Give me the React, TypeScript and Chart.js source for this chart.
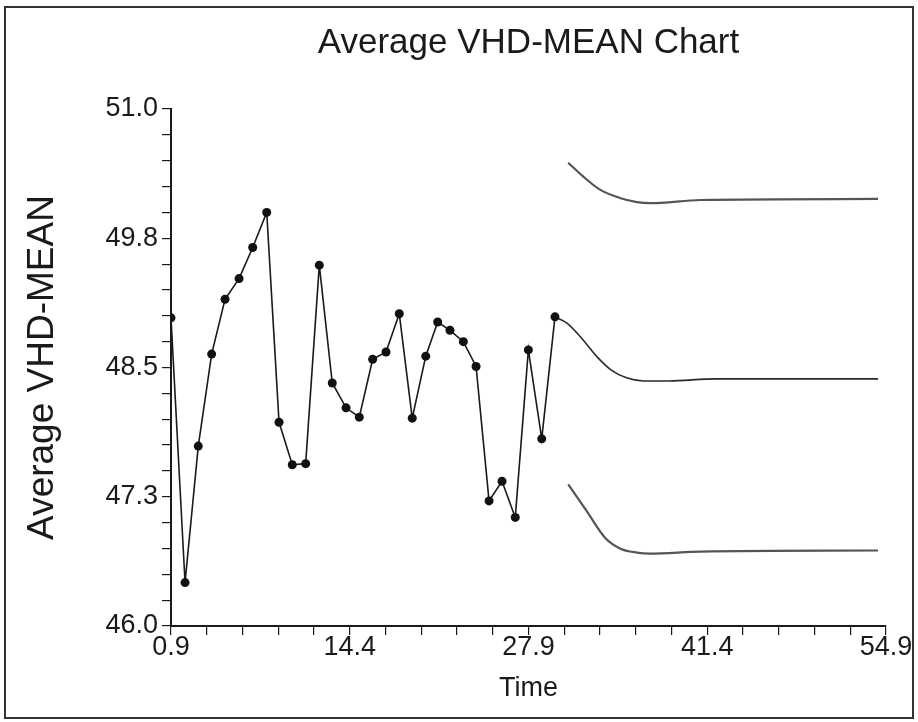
import React, { useEffect, useRef } from "react";
import { Chart, registerables } from "chart.js";

Chart.register(...registerables);

const FONT = "'Liberation Sans', Arial, Helvetica, sans-serif";

const obsTime = [
  0.9, 1.96, 2.96, 3.97, 4.98, 6.04, 7.07, 8.13, 9.06, 10.06,
  11.07, 12.1, 13.08, 14.12, 15.12, 16.13, 17.14, 18.14, 19.12, 20.14,
  21.04, 21.97, 22.98, 23.94, 24.92, 25.9, 26.9, 27.89, 28.9, 29.9,
];
const obsValue = [
  48.98, 46.42, 47.74, 48.63, 49.16, 49.36, 49.66, 50.0, 47.97, 47.56,
  47.57, 49.49, 48.35, 48.11, 48.02, 48.58, 48.65, 49.02, 48.01, 48.61,
  48.94, 48.86, 48.75, 48.51, 47.21, 47.4, 47.05, 48.67, 47.81, 48.99,
];

// Forecast (centre line)
const fcTime = [29.9, 30.8, 31.8, 33.1, 34.1, 35.3, 36.6, 38.5, 42.0, 54.3];
const fcValue = [48.99, 48.93, 48.8, 48.6, 48.48, 48.4, 48.37, 48.37, 48.39, 48.39];

// Upper limit
const upTime = [30.9, 32.0, 33.3, 34.8, 36.1, 37.1, 40.9, 54.3];
const upValue = [50.48, 50.35, 50.22, 50.14, 50.1, 50.09, 50.12, 50.13];

// Lower limit
const loTime = [30.9, 32.3, 33.7, 34.8, 36.1, 37.1, 40.9, 54.3];
const loValue = [47.37, 47.11, 46.85, 46.75, 46.71, 46.7, 46.72, 46.73];

// Axes
const xTickLabels = ["0.9", "14.4", "27.9", "41.4", "54.9"];
const yTickLabels = ["46.0", "47.3", "48.5", "49.8", "51.0"];
const xMin = 0.9;
const xMax = 54.9;
const yMin = 46.0;
const yMax = 51.0;
const minorPerMajor = 5;

const toXY = (xs: number[], ys: number[]) => xs.map((x, i) => ({ x, y: ys[i] }));

const frame = {
  id: "frame",
  beforeDraw(chart: any) {
    const c = chart.ctx;
    c.save();
    c.fillStyle = "#ffffff";
    c.fillRect(0, 0, chart.width, chart.height);
    c.strokeStyle = "#333333";
    c.lineWidth = 2;
    c.strokeRect(5, 7, chart.width - 10, chart.height - 11);
    c.restore();
  },
};

// centre the chart title over the plot area
const centerTitle = {
  id: "centerTitle",
  afterLayout(chart: any) {
    const tb = chart.titleBlock;
    const ca = chart.chartArea;
    if (tb && ca) {
      tb.left = ca.left;
      tb.right = ca.right;
      tb.width = ca.right - ca.left;
    }
  },
};

function buildTicks(min: number, max: number) {
  return (scale: any) => {
    const n = (xTickLabels.length - 1) * minorPerMajor;
    const ticks = [];
    for (let i = 0; i <= n; i++) ticks.push({ value: min + ((max - min) * i) / n });
    scale.ticks = ticks;
  };
}

export default function App() {
  const ref = useRef<HTMLCanvasElement>(null);

  useEffect(() => {
    const canvas = ref.current;
    if (!canvas) return;
    const chart = new Chart(canvas, {
      type: "line",
      data: {
        datasets: [
          {
            label: "Average",
            data: toXY(obsTime, obsValue),
            borderColor: "#1a1a1a",
            borderWidth: 1.6,
            pointRadius: 4.5,
            pointBackgroundColor: "#111111",
            pointBorderWidth: 0,
            tension: 0,
          },
          {
            label: "Forecast",
            data: toXY(fcTime, fcValue),
            borderColor: "#2a2a2a",
            borderWidth: 1.6,
            pointRadius: 0,
            cubicInterpolationMode: "monotone",
          },
          {
            label: "Upper",
            data: toXY(upTime, upValue),
            borderColor: "#555555",
            borderWidth: 2.2,
            pointRadius: 0,
            cubicInterpolationMode: "monotone",
          },
          {
            label: "Lower",
            data: toXY(loTime, loValue),
            borderColor: "#555555",
            borderWidth: 2.2,
            pointRadius: 0,
            cubicInterpolationMode: "monotone",
          },
        ],
      } as any,
      options: {
        responsive: false,
        animation: false,
        devicePixelRatio: 1,
        layout: { padding: { left: 0, right: 32, top: 0, bottom: 0 } },
        plugins: {
          legend: { display: false },
          tooltip: { enabled: false },
          title: {
            display: true,
            text: "Average VHD-MEAN Chart",
            color: "#1a1a1a",
            font: { family: FONT, size: 35, weight: "normal" },
            padding: { top: 22, bottom: 45 },
          },
        },
        scales: {
          x: {
            type: "linear",
            min: xMin,
            max: xMax,
            afterBuildTicks: buildTicks(xMin, xMax),
            afterFit: (s: any) => {
              s.height = 96;
            },
            ticks: {
              autoSkip: false,
              maxRotation: 0,
              color: "#1a1a1a",
              padding: -4,
              font: { family: FONT, size: 27 },
              callback: (_v: any, i: number) =>
                i % minorPerMajor === 0 ? xTickLabels[i / minorPerMajor] : "",
            },
            grid: {
              drawOnChartArea: false,
              drawTicks: true,
              tickLength: 9,
              color: "#1a1a1a",
              lineWidth: 1.2,
            },
            border: { display: true, color: "#1a1a1a", width: 2 },
            title: {
              display: true,
              text: "Time",
              color: "#1a1a1a",
              font: { family: FONT, size: 27 },
              padding: { top: 0, bottom: 17 },
            },
          },
          y: {
            type: "linear",
            min: yMin,
            max: yMax,
            afterBuildTicks: buildTicks(yMin, yMax),
            afterFit: (s: any) => {
              s.width = 171;
            },
            ticks: {
              autoSkip: false,
              color: "#1a1a1a",
              padding: 4,
              font: { family: FONT, size: 27 },
              callback: (_v: any, i: number) =>
                i % minorPerMajor === 0 ? yTickLabels[i / minorPerMajor] : "",
            },
            grid: {
              drawOnChartArea: false,
              drawTicks: true,
              tickLength: 9,
              color: "#1a1a1a",
              lineWidth: 1.2,
            },
            border: { display: true, color: "#1a1a1a", width: 2 },
            title: {
              display: true,
              text: "Average VHD-MEAN",
              color: "#1a1a1a",
              font: { family: FONT, size: 37 },
              padding: { top: 21, bottom: 0 },
            },
          },
        },
      } as any,
      plugins: [frame, centerTitle],
    });
    return () => chart.destroy();
  }, []);

  return (
    <div style={{ position: "fixed", left: 0, top: 0, width: 918, height: 722, background: "#fff" }}>
      <canvas ref={ref} width={918} height={722} style={{ display: "block" }} />
    </div>
  );
}
